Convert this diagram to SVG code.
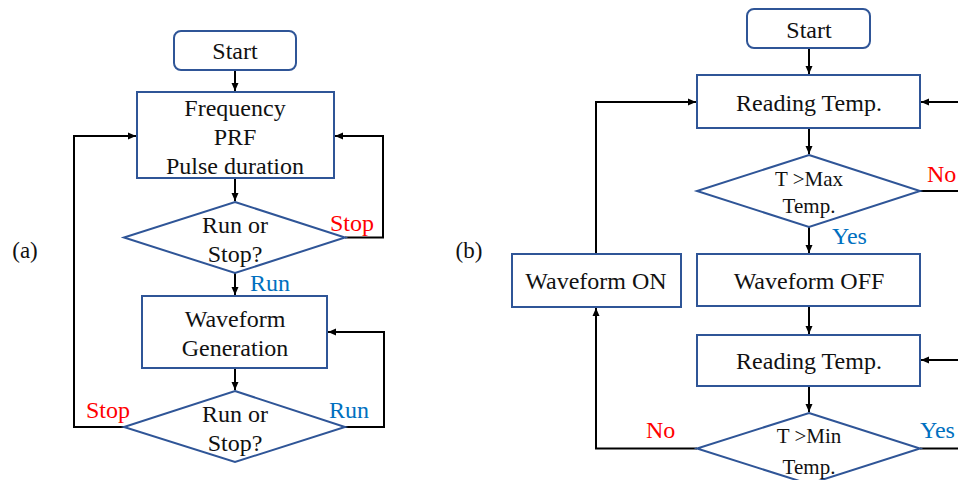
<svg xmlns="http://www.w3.org/2000/svg" width="958" height="480" viewBox="0 0 958 480">
<defs>
<marker id="ah" markerWidth="8" markerHeight="8" refX="8" refY="4" orient="auto" markerUnits="userSpaceOnUse">
<path d="M0,0.5 L8,4 L0,7.5 Z" fill="#000"/>
</marker>
<style>
.n{fill:#fff;stroke:#2F5597;stroke-width:2}
.t{font-family:"Liberation Serif","Times New Roman",serif;font-size:24px;fill:#111;text-anchor:middle}
.s{font-size:21px}
.red{fill:#FF0000;text-anchor:start}
.blue{fill:#0070C0;text-anchor:start}
.c{fill:none;stroke:#000;stroke-width:2}
.a{marker-end:url(#ah)}
</style>
</defs>
<rect width="958" height="480" fill="#fff"/>
<g id="connectors">
<line class="c a" x1="235" y1="70" x2="235" y2="91"/>
<line class="c a" x1="235" y1="178" x2="235" y2="201"/>
<polyline class="c a" points="345,237.5 383,237.5 383,136 335,136"/>
<line class="c a" x1="235" y1="273" x2="235" y2="295"/>
<line class="c a" x1="235" y1="368" x2="235" y2="390"/>
<polyline class="c a" points="345,427 384,427 384,332 328,332"/>
<polyline class="c a" points="124,427 74,427 74,136 136,136"/>
<line class="c a" x1="809" y1="48" x2="809" y2="74"/>
<line class="c a" x1="809" y1="128" x2="809" y2="154"/>
<polyline class="c" points="920,191 958,191"/>
<line class="c a" x1="958" y1="102" x2="921" y2="102"/>
<line class="c a" x1="809" y1="227" x2="809" y2="253"/>
<line class="c a" x1="809" y1="306" x2="809" y2="334"/>
<line class="c a" x1="958" y1="360" x2="921" y2="360"/>
<line class="c a" x1="809" y1="386" x2="809" y2="412"/>
<polyline class="c" points="920,448.5 958,448.5"/>
<polyline class="c a" points="697,448.5 596,448.5 596,308"/>
<polyline class="c a" points="596,254 596,102 696,102"/>
</g>
<text class="t" x="25" y="258" style="font-size:23px">(a)</text>
<text class="t" x="469" y="258" style="font-size:23px">(b)</text>
<g id="a-start"><rect class="n" x="174" y="31" width="122" height="39" rx="7"/><text class="t" x="235" y="59">Start</text></g>
<g id="a-params"><rect class="n" x="137" y="92" width="197" height="86"/><text class="t" x="235" y="116">Frequency</text><text class="t" x="235" y="145">PRF</text><text class="t" x="235" y="174">Pulse duration</text></g>
<g id="a-dec1"><polygon class="n" points="235,202 345,237.5 235,273 124,237.5"/><text class="t" x="235" y="233">Run or</text><text class="t" x="235" y="262">Stop?</text></g>
<g id="a-wave"><rect class="n" x="142" y="296" width="185" height="72"/><text class="t" x="235" y="327">Waveform</text><text class="t" x="235" y="356">Generation</text></g>
<g id="a-dec2"><polygon class="n" points="235,391 345,427 235,462 124,427"/><text class="t" x="235" y="422">Run or</text><text class="t" x="235" y="451">Stop?</text></g>
<text class="t red" x="330" y="231">Stop</text>
<text class="t blue" x="250" y="291">Run</text>
<text class="t red" x="86" y="418">Stop</text>
<text class="t blue" x="329" y="418">Run</text>
<g id="b-start"><rect class="n" x="747" y="9" width="123" height="39" rx="7"/><text class="t" x="809" y="38">Start</text></g>
<g id="b-read1"><rect class="n" x="697" y="75" width="223" height="53"/><text class="t" x="809" y="111">Reading Temp.</text></g>
<g id="b-dec1"><polygon class="n" points="809,155 920,191 809,227 697,191"/><text class="t s" x="809" y="186">T &gt;Max</text><text class="t s" x="809" y="213">Temp.</text></g>
<g id="b-off"><rect class="n" x="697" y="254" width="223" height="52"/><text class="t" x="809" y="289">Waveform OFF</text></g>
<g id="b-on"><rect class="n" x="512" y="254" width="169" height="53"/><text class="t" x="596" y="289">Waveform ON</text></g>
<g id="b-read2"><rect class="n" x="697" y="335" width="223" height="51"/><text class="t" x="809" y="369">Reading Temp.</text></g>
<g id="b-dec2"><polygon class="n" points="809,413 920,448.5 809,484 697,448.5"/><text class="t s" x="809" y="443">T &gt;Min</text><text class="t s" x="809" y="474">Temp.</text></g>
<text class="t red" x="927" y="182">No</text>
<text class="t blue" x="832" y="244">Yes</text>
<text class="t red" x="646" y="438">No</text>
<text class="t blue" x="920" y="438">Yes</text>
</svg>
